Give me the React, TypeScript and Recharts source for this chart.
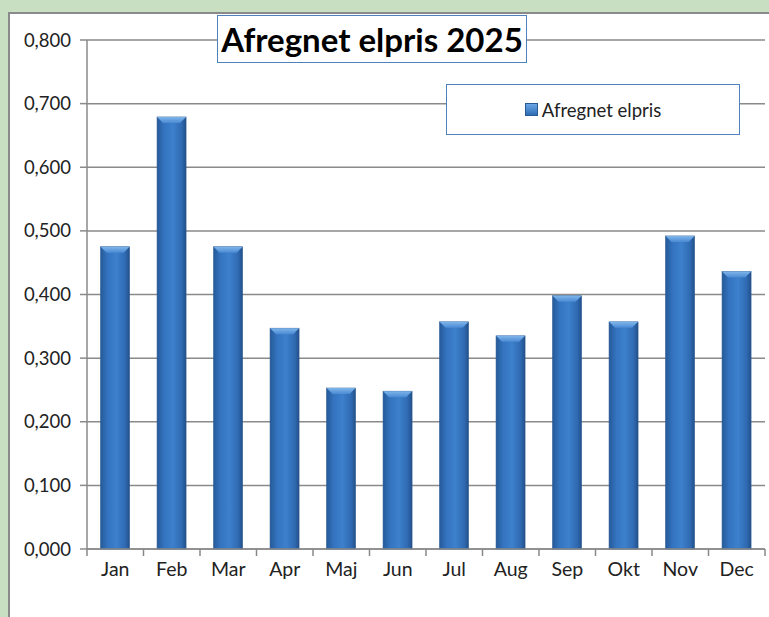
import React from "react";
import { BarChart, Bar, XAxis, YAxis, CartesianGrid } from "recharts";

const months = ["Jan", "Feb", "Mar", "Apr", "Maj", "Jun", "Jul", "Aug", "Sep", "Okt", "Nov", "Dec"];
const prices = [0.475, 0.679, 0.475, 0.347, 0.253, 0.248, 0.357, 0.335, 0.398, 0.357, 0.492, 0.436];
const yTicks = [0, 0.1, 0.2, 0.3, 0.4, 0.5, 0.6, 0.7, 0.8];

const SERIES = "Afregnet elpris";
const TITLE = "Afregnet elpris 2025";
const FONT = "Lato, 'Open Sans', sans-serif";

const data = months.map((m, i) => ({ month: m, price: prices[i] }));

const fmt = (v: number) => v.toFixed(3).replace(".", ",");

function BevelBar(props: any) {
  const { x, y, width, height } = props;
  if (!height || height <= 0) return null;
  const b = Math.min(6, height / 2);
  return (
    <g>
      <rect x={x} y={y} width={width} height={height} fill="url(#barGrad)" stroke="#2a5a92" strokeWidth={0.6} />
      <path
        d={`M${x},${y} L${x + width},${y} L${x + width - b},${y + b} L${x + b},${y + b} Z`}
        fill="url(#topGrad)"
      />
    </g>
  );
}

function MonthTick(props: any) {
  const { x, y, payload, index } = props;
  const half = payload.offset || 0;
  return (
    <g>
      <line x1={x - half} y1={y - 8} x2={x - half} y2={y - 1} stroke="#888" strokeWidth={1.5} />
      {index === months.length - 1 && (
        <line x1={x + half} y1={y - 8} x2={x + half} y2={y - 1} stroke="#888" strokeWidth={1.5} />
      )}
      <text x={x} y={y + 19} textAnchor="middle" fill="#222" fontSize={19.5} fontFamily={FONT}>
        {payload.value}
      </text>
    </g>
  );
}

export default function App() {
  return (
    <div style={{ position: "absolute", left: 0, top: 0, width: 769, height: 617, background: "#c9dfc1", overflow: "hidden" }}>
      <div
        style={{
          position: "absolute",
          left: 8,
          top: 12,
          width: 800,
          height: 700,
          background: "#fff",
          border: "2px solid #8a8a8a",
        }}
      />
      <div style={{ position: "absolute", left: 0, top: 0 }}>
        <BarChart width={769} height={617} data={data} margin={{ top: 40, right: 4, bottom: 38, left: 0 }} barCategoryGap="24%">
          <defs>
            <linearGradient id="barGrad" x1="0" y1="0" x2="1" y2="0">
              <stop offset="0%" stopColor="#255a99" />
              <stop offset="25%" stopColor="#3474c0" />
              <stop offset="55%" stopColor="#3d80cc" />
              <stop offset="85%" stopColor="#2f6ab2" />
              <stop offset="100%" stopColor="#234f88" />
            </linearGradient>
            <linearGradient id="topGrad" x1="0" y1="0" x2="0" y2="1">
              <stop offset="0%" stopColor="#7fb5ea" />
              <stop offset="100%" stopColor="#4a8ad3" />
            </linearGradient>
          </defs>
          <CartesianGrid vertical={false} stroke="#8a8a8a" strokeWidth={1.5} />
          <XAxis
            dataKey="month"
            height={30}
            axisLine={{ stroke: "#8a8a8a", strokeWidth: 1.5 }}
            tickLine={false}
            tick={<MonthTick />}
            interval={0}
          />
          <YAxis
            width={87}
            domain={[0, 0.8]}
            ticks={yTicks}
            tickFormatter={fmt}
            axisLine={{ stroke: "#8a8a8a", strokeWidth: 1.5 }}
            tickLine={{ stroke: "#8a8a8a", strokeWidth: 1.5 }}
            tickSize={7}
            tickMargin={9}
            tick={{ fill: "#222", fontSize: 18.5, fontFamily: FONT }}
          />
          <Bar dataKey="price" name={SERIES} shape={<BevelBar />} isAnimationActive={false} />
        </BarChart>
      </div>
      <div
        style={{
          position: "absolute",
          left: 446,
          top: 84,
          width: 294,
          height: 51,
          boxSizing: "border-box",
          border: "1.5px solid #4f81bd",
          background: "#fff",
          display: "flex",
          alignItems: "center",
          justifyContent: "center",
          fontFamily: FONT,
          fontSize: 18.5,
          color: "#222",
        }}
      >
        <span
          style={{
            display: "inline-block",
            width: 11,
            height: 11,
            marginRight: 4,
            background: "linear-gradient(180deg, #6aa6e6 0%, #2f6db4 100%)",
            border: "1px solid #2a5a92",
          }}
        />
        {SERIES}
      </div>
      <div
        style={{
          position: "absolute",
          left: 217,
          top: 15,
          width: 310,
          height: 48,
          boxSizing: "border-box",
          border: "1.5px solid #4f81bd",
          background: "#fff",
          display: "flex",
          alignItems: "center",
          justifyContent: "center",
          fontFamily: FONT,
          fontWeight: 700,
          fontSize: 33,
          color: "#000",
          whiteSpace: "nowrap",
        }}
      >
        {TITLE}
      </div>
    </div>
  );
}
